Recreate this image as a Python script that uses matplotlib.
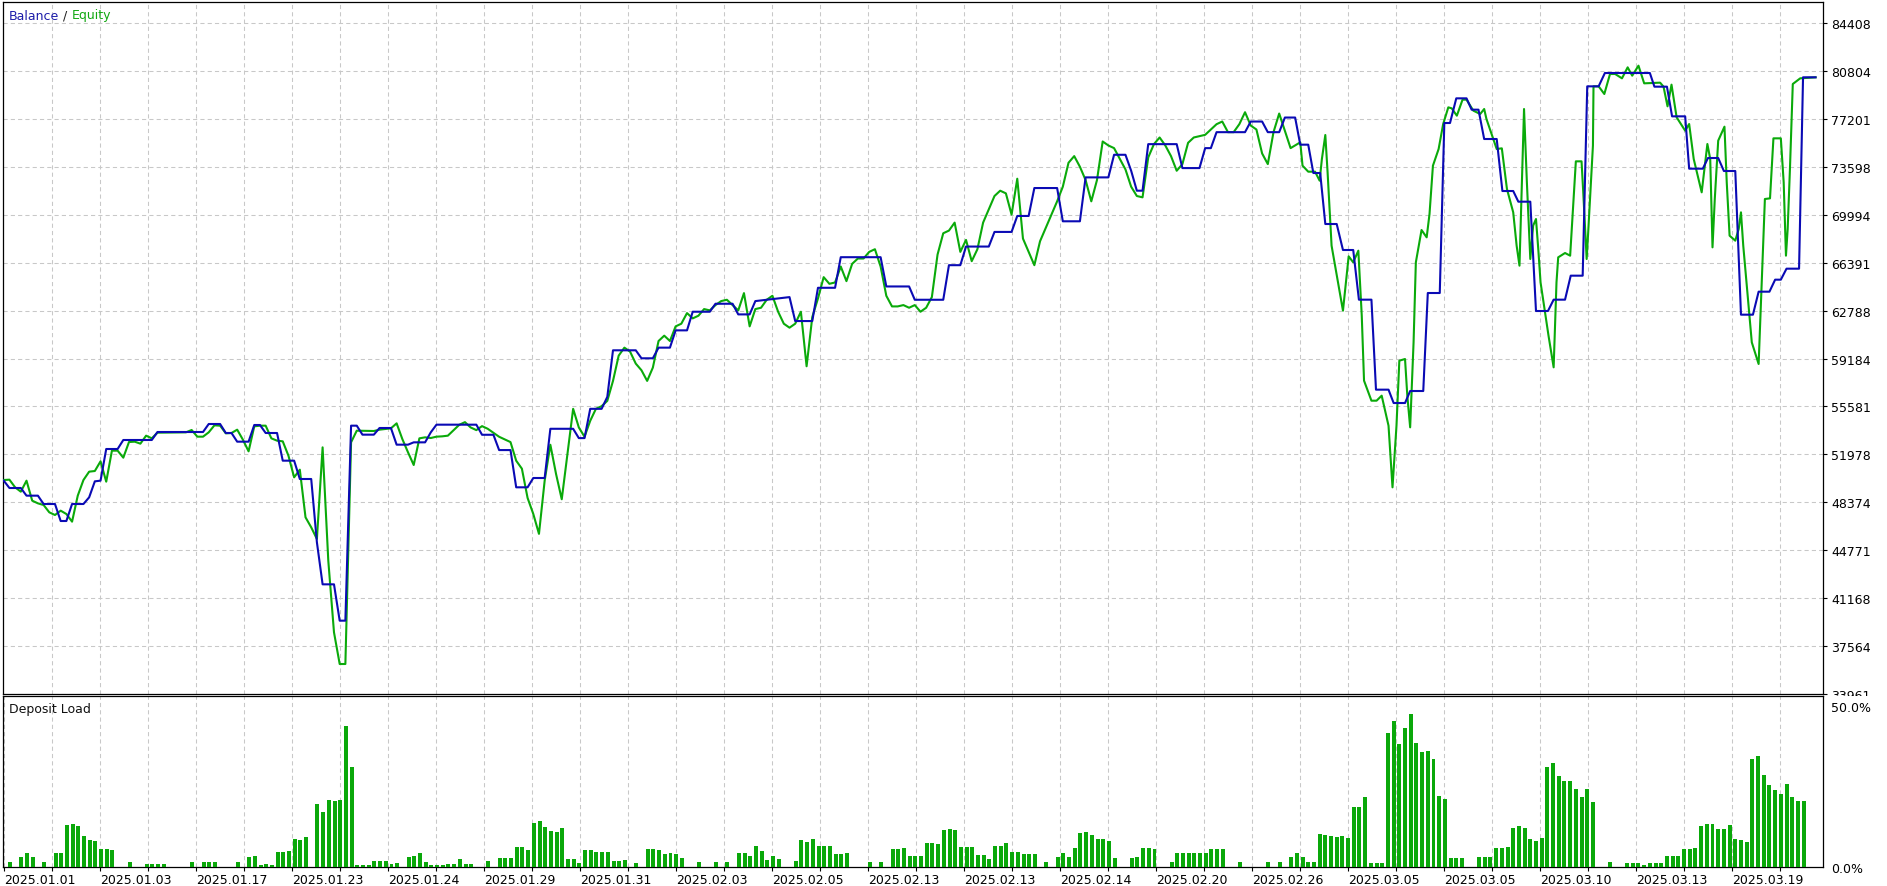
import numpy as np
import matplotlib.pyplot as plt
from matplotlib.patches import Rectangle

# deposit load per deal, %
load = [1.4, 0, 3.0, 4.2, 3.0, 0, 1.4, 0, 4.2, 4.2,
        12.9, 13.3, 12.6, 9.5, 8.3, 8.0, 5.5, 5.5, 5.2, 0,
        0, 1.4, 0, 0, 0.8, 0.8, 0.8, 0.8, 0, 0,
        0, 0, 1.4, 0, 1.4, 1.4, 1.4, 0, 0, 0,
        1.4, 0, 3.0, 3.3, 0.5, 0.8, 0.5, 4.6, 4.6, 4.9,
        8.6, 8.3, 9.2, 0, 19.5, 17.0, 20.7, 20.4, 20.7, 43.7,
        31.0, 0.5, 0.5, 0.5, 1.8, 1.8, 1.8, 0.8, 1.1, 0,
        3.0, 3.3, 4.2, 1.4, 0.5, 0.5, 0.5, 0.8, 0.8, 2.4,
        0.8, 0.8, 0, 0, 1.8, 0, 2.7, 2.7, 2.7, 6.1,
        6.1, 5.2, 13.6, 14.2, 12.3, 11.1, 10.8, 12.0, 2.4, 2.4,
        1.1, 5.2, 5.2, 4.6, 4.6, 4.6, 1.8, 1.8, 2.1, 0,
        1.1, 0, 5.5, 5.5, 5.2, 3.9, 4.2, 3.9, 2.7, 0,
        0, 1.4, 0, 0, 1.4, 0, 1.4, 0, 4.2, 4.2,
        3.3, 6.4, 4.9, 2.1, 3.3, 2.4, 0, 0, 1.8, 8.3,
        7.7, 8.6, 6.4, 6.4, 6.4, 3.9, 3.9, 4.2, 0, 0,
        0, 1.4, 0, 1.4, 0, 5.5, 5.5, 5.8, 3.3, 3.3,
        3.3, 7.3, 7.3, 7.0, 11.4, 11.7, 11.4, 6.1, 6.1, 6.1,
        3.6, 3.6, 2.4, 6.4, 6.4, 7.3, 4.6, 4.6, 3.9, 3.9,
        3.9, 0, 1.4, 0, 3.0, 4.2, 3.0, 5.8, 10.5, 10.8,
        9.8, 8.6, 8.6, 8.0, 2.7, 0, 0, 2.7, 3.0, 5.8,
        5.8, 5.5, 0, 0, 1.4, 4.2, 4.2, 4.2, 4.2, 4.2,
        4.2, 5.5, 5.5, 5.5, 0, 0, 1.4, 0, 0, 0,
        0, 1.4, 0, 1.4, 0, 3.0, 4.2, 3.0, 1.4, 1.4,
        10.1, 9.8, 9.5, 9.2, 9.5, 8.9, 18.5, 18.5, 21.6, 1.1,
        1.1, 1.1, 41.5, 45.2, 38.1, 43.1, 47.4, 38.4, 35.6, 35.9,
        33.4, 21.9, 21.0, 2.7, 2.7, 2.7, 0, 0, 3.0, 3.0,
        3.0, 5.8, 5.8, 6.1, 12.0, 12.6, 12.0, 8.6, 8.0, 8.9,
        31.0, 32.2, 28.2, 26.6, 26.6, 24.1, 21.6, 24.1, 20.1, 0,
        0, 1.4, 0, 0, 1.1, 1.1, 1.1, 0.5, 1.1, 1.1,
        1.1, 3.3, 3.3, 3.3, 5.5, 5.5, 5.8, 12.6, 13.3, 13.3,
        11.7, 11.7, 12.9, 8.6, 8.3, 7.7, 33.4, 34.4, 28.5, 25.4,
        23.8, 22.6, 25.7, 21.6, 20.4, 20.4]

# balance line vertices: deal number, value
bal_pos = [0, 1, 3, 4, 6, 7, 9, 10, 11, 12, 14, 15, 16, 17, 18, 20, 21, 26, 27, 35,
           36, 38, 39, 40, 41, 43, 44, 45, 46, 48, 49, 51, 52, 54, 55, 56, 58, 59, 60, 61,
           62, 63, 65, 66, 68, 69, 71, 72, 74, 75, 76, 83, 84, 86, 87, 89, 90, 92, 93, 95,
           96, 100, 101, 102, 103, 105, 106, 107, 111, 112, 114, 115, 117, 118, 120, 121, 124, 125, 128, 129,
           131, 132, 138, 139, 142, 143, 146, 147, 154, 155, 159, 160, 165, 166, 168, 169, 173, 174, 177, 178,
           180, 181, 185, 186, 189, 190, 194, 195, 197, 198, 199, 200, 201, 206, 207, 210, 211, 212, 213, 218, 219,
           221, 222, 224, 225, 226.8, 227.7, 229.1, 230.0, 231.2, 232.1, 234.1, 235.2, 237.0, 238.0, 240.2, 241.0,
           243.2, 244.1, 246.1, 247.0, 249.3, 250.1, 252.2, 253.0, 254.0, 255.1, 256.9, 257.8, 259.0, 260.0,
           262.2, 263.2, 265.1, 266.0, 268.1, 269.1, 271.2, 272.2, 274.2, 275.2, 277.3, 278.1, 280.1, 281.2,
           289.1, 289.9, 292.1, 293.0, 295.3, 296.0, 298.4, 299.3, 301.1, 302.1, 304.1, 305.1, 307.2, 308.2,
           310.1, 311.1, 312.1, 313.1, 315.3, 316.0, 318.2]
bal_val = [50000, 49448, 49448, 48872, 48872, 48245, 48245, 46967, 46967, 48245, 48245, 48746, 49949, 50000,
           52380, 52380, 53057, 53057, 53658, 53658, 54260, 54260, 53583, 53583, 52931, 52931, 54184, 54184,
           53583, 53583, 51503, 51503, 50125, 50125, 45363, 42206, 42206, 39474, 39474, 54134, 54134, 53458,
           53458, 53959, 53959, 52706, 52706, 52881, 52881, 53633, 54209, 54209, 53450, 53450, 52300, 52300,
           49500, 49500, 50200, 50200, 53900, 53900, 53200, 53200, 55400, 55400, 56300, 59800, 59800, 59200,
           59200, 60000, 60000, 61300, 61300, 62700, 62700, 63300, 63300, 62500, 62500, 63500, 63800, 62000,
           62000, 64500, 64500, 66800, 66800, 64600, 64600, 63600, 63600, 66200, 66200, 67600, 67600, 68700,
           68700, 69900, 69900, 72000, 72000, 69500, 69500, 72800, 72800, 74500, 74500, 73300, 71800, 71800,
           75300, 75300, 73500, 73500, 75000, 75000, 76200, 76200, 77000, 77000, 76200, 76200, 77300, 77300,
           75260, 75260, 73129, 73129, 69295, 69295, 67341, 67341, 63607, 63607, 56841, 56841, 55838, 55838,
           56740, 56740, 64108, 64108, 76889, 76889, 78743, 78743, 77891, 77891, 75686, 75686, 71776, 71776,
           70974, 70974, 62755, 62755, 63607, 63607, 65411, 65411, 79645, 79645, 80648, 80648, 79620, 79620,
           77390, 77390, 73455, 73455, 74257, 74257, 73280, 73280, 62479, 62479, 64208, 64208, 65110, 65110,
           65937, 65937, 80324, 80324]

# equity line vertices: deal number, value
eq_pos = list(range(0, 28)) + list(range(32, 63)) + list(range(65, 79)) + list(range(80, 227)) + [
    227.7, 228.1, 229.1, 230.3, 231.1, 231.5, 232.1, 232.5, 233.2, 235.2, 236.2, 237.0, 237.9, 238.5,
    238.9, 240.2, 241.1, 242.0, 243.2, 243.9, 244.6, 245.1, 246.1, 246.5, 247.0, 247.6, 248.0, 249.0,
    249.9, 250.4, 251.0, 252.0, 252.8, 253.7, 254.3, 255.2, 256.2, 256.9, 258.1, 259.3, 260.0, 260.4,
    262.2, 263.1, 264.0, 265.1, 265.7, 266.2, 266.5, 267.0, 267.5, 268.1, 268.6, 269.1, 269.5, 269.9,
    271.3, 272.2, 272.7, 273.0, 274.2, 275.1, 276.1, 277.1, 277.4, 278.0, 278.3, 279.1, 279.2, 280.1,
    281.1, 282.1, 283.0, 284.2, 285.2, 286.0, 287.1, 288.1, 290.9, 291.5, 292.2, 292.9, 293.8, 295.3,
    296.0, 296.8, 298.2, 299.2, 299.7, 300.1, 300.5, 301.1, 302.2, 302.6, 303.1, 304.1, 304.7, 305.1,
    305.5, 307.0, 308.2, 308.7, 309.3, 310.2, 310.8, 312.1, 312.6, 313.0, 313.3, 313.7, 314.2, 315.5, 318.2]
eq_val = [
    50049, 50074, 49498, 49172, 49999, 48496, 48295, 48170, 47619, 47418,
    47744, 47493, 46917, 48872, 50049, 50676, 50726, 51453, 49924, 52255,
    52255, 51728, 52906, 52931, 52781, 53382, 53182, 53608,
    53633, 53808, 53307, 53307, 53633, 54159, 54134, 53558, 53583, 53833,
    53082, 52205, 54084, 54134, 54134, 53182, 53007, 52956, 51879, 50250,
    50826, 47243, 46491, 45614, 52505, 43985, 38597, 36216, 36216, 52881, 53758,
    53733, 53833, 53883, 53934, 54309, 53132, 52130, 51177, 53182, 53257,
    53207, 53307, 53332, 53382,
    54200, 54400, 54000, 53800,
    54100, 53900, 53600, 53300, 53100, 52900, 51500, 50900, 48700, 47500,
    46000, 50000, 52700, 50500, 48600, 52000, 55400, 54000, 53300, 54500,
    55400, 55600, 56000, 57500, 59400, 60000, 59700, 58800, 58300, 57500,
    58500, 60500, 60900, 60500, 61600, 61800, 62600, 62200, 62400, 62900,
    62800, 63200, 63500, 63600, 63200, 62800, 64100, 61600, 62900, 63000,
    63600, 63900, 62700, 61800, 61500, 61800, 62700, 58600, 62300, 63700,
    65300, 64800, 64900, 66100, 65000, 66300, 66700, 66700, 67200, 67400,
    66100, 63900, 63100, 63100, 63200, 63000, 63200, 62700, 63000, 63800,
    67000, 68600, 68800, 69400, 67200, 68100, 66500, 67400, 69400, 70400,
    71400, 71800, 71600, 70000, 72700, 68200, 67200, 66200, 68000, 69000,
    70000, 71000, 72100, 73900, 74400, 73600, 72600, 71000, 72600, 75500,
    75200, 75000, 74200, 73400, 72100, 71400, 71300, 74300, 75300, 75800,
    75200, 74400, 73300, 73800, 75400, 75800, 75900, 76000, 76400, 76800,
    77000, 76200, 76200, 76800, 77700, 76700, 76400, 74600, 73800, 76200,
    77600, 76300, 75000,
    75435, 73681, 73230, 73230, 72553, 74182, 75987, 73180, 67667, 62780, 66865, 66414, 67291, 62404,
    57517, 56013, 56013, 56390, 54134, 49498, 54134, 59021, 59146, 56390, 54009, 60399, 66414, 68844,
    68293, 70047, 73681, 74934, 76814, 78067, 77991, 77440, 78643, 78643, 77816, 77565, 77941, 77189,
    74934, 74984, 71927, 70173, 67667, 66163, 70674, 77941, 72428, 66664, 69170, 69671, 67416, 64910,
    60900, 58520, 64910, 66789, 67115, 66915, 74007, 74007, 71676, 66664, 68919, 75185, 79645, 79645,
    79069, 80573, 80573, 80247, 81074, 80447, 81199, 79871, 79921, 79620, 78142, 79771, 77315, 76312,
    76813, 74182, 71676, 75310, 74182, 67541, 71175, 75561, 76613, 72428, 68418, 68043, 68919, 70173,
    67667, 60399, 58770, 64409, 71175, 71225, 75736, 75736, 72428, 66915, 68919, 73430, 79821, 80247, 80324]

y_ticks = [33961, 37564, 41168, 44771, 48374, 51978, 55581, 59184, 62788,
           66391, 69994, 73598, 77201, 80804, 84408]
date_labels = ['2025.01.01', '2025.01.03', '2025.01.17', '2025.01.23', '2025.01.24',
               '2025.01.29', '2025.01.31', '2025.02.03', '2025.02.05', '2025.02.13',
               '2025.02.13', '2025.02.14', '2025.02.20', '2025.02.26', '2025.03.05',
               '2025.03.05', '2025.03.10', '2025.03.13', '2025.03.19']

W, H = 1887, 887
PITCH = 5.694      # px per deal
X0 = 10            # px of first bar centre
plt.rcParams['font.family'] = 'DejaVu Sans'
plt.rcParams['font.size'] = 9

fig = plt.figure(figsize=(W / 100, H / 100), dpi=100)


def box(x0, y0, x1, y1):
    return [x0 / W, 1 - y1 / H, (x1 - x0) / W, (y1 - y0) / H]


ax = fig.add_axes(box(3, 3, 1823, 695))
ax2 = fig.add_axes(box(3, 697, 1823, 868))
ax.set_zorder(1)
ax2.set_zorder(2)

xmin, xmax = (3 - X0) / PITCH, (1823 - X0) / PITCH
grid_x = [(4.3 + 48 * k - X0) / PITCH for k in range(38)]

gstyle = dict(color='#c8c8c8', linewidth=0.75, linestyle=(0, (4, 3)))

# top: balance / equity
eq_x = np.array(eq_pos) - 1.1
bal_x = np.array(bal_pos) - 1.1
ax.plot(eq_x, eq_val, color='#0aaa0a', lw=1.5, zorder=3)
ax.plot(bal_x, bal_val, color='#0a0ab4', lw=1.5, zorder=4)
ax.set_xlim(xmin, xmax)
ax.set_ylim(33961, 85986)
ax.yaxis.tick_right()
ax.set_yticks(y_ticks)
ax.set_yticklabels([str(v) for v in y_ticks])
ax.tick_params(axis='y', length=3, width=0.8, pad=3)
ax.set_xticks(grid_x[1:])
ax.set_xticklabels([])
ax.tick_params(axis='x', length=0)
ax.grid(True, **gstyle)
for s in ax.spines.values():
    s.set_linewidth(0.9)

t1 = ax.annotate('Balance', xy=(0, 1), xycoords='axes fraction', xytext=(6, -13),
                 textcoords='offset pixels', va='center', ha='left', color='#1c1caa')
t2 = ax.annotate(' / ', xy=(1, 0.5), xycoords=t1, va='center', ha='left', color='#202020')
ax.annotate('Equity', xy=(1, 0.5), xycoords=t2, va='center', ha='left', color='#12a812')

# bottom: deposit load
ax2.bar(np.arange(len(load)), load, width=0.7, color='#0aa80a', zorder=3)
ax2.set_xlim(xmin, xmax)
ax2.set_ylim(0, 53.1)
ax2.yaxis.tick_right()
ax2.set_yticks([0, 50])
ax2.set_yticklabels(['0.0%', '50.0%'])
ax2.tick_params(axis='y', length=0, pad=6)
ax2.set_xticks(grid_x)
ax2.set_xticklabels([date_labels[k // 2] if k % 2 == 0 else '' for k in range(38)])
for lab in ax2.get_xticklabels():
    lab.set_horizontalalignment('left')
ax2.tick_params(axis='x', length=3, width=0.8, pad=1)
ax2.grid(True, axis='x', **gstyle)
for s in ax2.spines.values():
    s.set_linewidth(0.9)
ax2.annotate('Deposit Load', xy=(0, 1), xycoords='axes fraction', xytext=(6, -13),
             textcoords='offset pixels', va='center', ha='left', color='#111111')

# the lowest price label is cut by the lower pane
fig.patches.append(Rectangle((1824.5 / W, 0), (W - 1824.5) / W, (H - 697) / H,
                             transform=fig.transFigure, facecolor='white',
                             edgecolor='none', zorder=1.5))

fig.savefig('out.png', dpi=100)
